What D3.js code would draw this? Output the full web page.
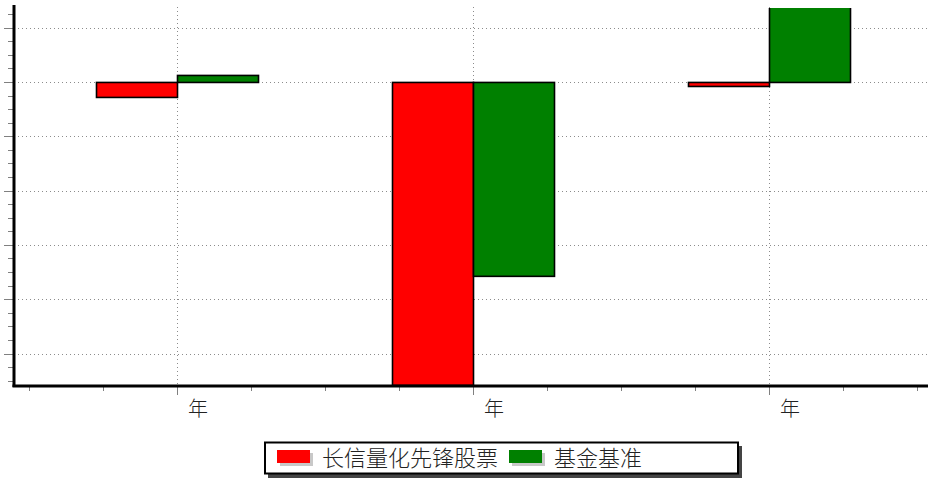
<!DOCTYPE html>
<html><head><meta charset="utf-8">
<script src="https://cdn.jsdelivr.net/npm/d3@7/dist/d3.min.js"></script>
<style>
html,body{margin:0;padding:0;background:#fff;}
svg{display:block;}
</style></head>
<body>
<svg id="chart" width="928" height="479"></svg>
<script>
// ---- data ----
const categories = ["年", "年", "年"];
const seriesNames = ["长信量化先锋股票", "基金基准"];
const seriesColors = ["#ff0000", "#008000"];
const fundValues = [-2.76, -60, -0.74];      // 长信量化先锋股票
const benchValues = [1.29, -35.7, 20];       // 基金基准
const yTicks = [-50, -40, -30, -20, -10, 0, 10];

// ---- layout ----
const svg = d3.select("#chart");
const plotLeft = 14, plotRight = 928, plotTop = 7, plotBottom = 385;

const y = d3.scaleLinear().domain([-55.8, 13.8]).range([plotBottom, plotTop]).clamp(true);
// category centers along a linear index scale
const x = d3.scaleLinear().domain([0, 1]).range([177, 473]);
const barW = 81;

const g = svg.append("g");

// horizontal gridlines
g.selectAll(".hgrid").data(yTicks).join("line")
  .attr("x1", plotLeft).attr("x2", plotRight)
  .attr("y1", d => Math.round(y(d)) + 0.5).attr("y2", d => Math.round(y(d)) + 0.5)
  .attr("stroke", "#8c8c8c").attr("stroke-width", 1).attr("stroke-dasharray", "1,3");

// vertical gridlines at category centers
g.selectAll(".vgrid").data(categories).join("line")
  .attr("x1", (d, i) => Math.round(x(i)) + 0.5).attr("x2", (d, i) => Math.round(x(i)) + 0.5)
  .attr("y1", plotTop).attr("y2", plotBottom)
  .attr("stroke", "#8c8c8c").attr("stroke-width", 1).attr("stroke-dasharray", "1,3");

// y axis minor/major ticks
const yMinor = d3.range(-55, 13.8, 2.5).filter(v => !yTicks.includes(v));
g.selectAll(".yminor").data(yMinor).join("line")
  .attr("x1", 8).attr("x2", plotLeft)
  .attr("y1", d => Math.round(y(d)) + 0.5).attr("y2", d => Math.round(y(d)) + 0.5)
  .attr("stroke", "#808080").attr("stroke-width", 1);
g.selectAll(".ymajor").data(yTicks).join("line")
  .attr("x1", 4).attr("x2", plotLeft)
  .attr("y1", d => Math.round(y(d)) + 0.5).attr("y2", d => Math.round(y(d)) + 0.5)
  .attr("stroke", "#808080").attr("stroke-width", 1);

// x axis minor/major ticks
const xMinor = d3.range(-2, 11).map(k => k / 4).filter(v => !Number.isInteger(v));
g.selectAll(".xminor").data(xMinor).join("line")
  .attr("x1", d => Math.round(x(d)) + 0.5).attr("x2", d => Math.round(x(d)) + 0.5)
  .attr("y1", plotBottom + 1).attr("y2", plotBottom + 6)
  .attr("stroke", "#808080").attr("stroke-width", 1);
g.selectAll(".xmajor").data(categories).join("line")
  .attr("x1", (d, i) => Math.round(x(i)) + 0.5).attr("x2", (d, i) => Math.round(x(i)) + 0.5)
  .attr("y1", plotBottom + 1).attr("y2", plotBottom + 10)
  .attr("stroke", "#808080").attr("stroke-width", 1);

// bars
const bars = [];
categories.forEach((c, i) => {
  bars.push({i, s: 0, v: fundValues[i]});
  bars.push({i, s: 1, v: benchValues[i]});
});
const defs = svg.append("defs");
defs.append("clipPath").attr("id", "plotclip").append("rect")
  .attr("x", plotLeft).attr("y", plotTop + 1).attr("width", plotRight - plotLeft).attr("height", plotBottom - plotTop - 1);

const barG = g.append("g").attr("clip-path", "url(#plotclip)");
barG.selectAll("rect").data(bars).join("rect")
  .attr("x", d => Math.round(x(d.i)) + (d.s === 0 ? -barW : 0) + 0.5)
  .attr("width", barW)
  .attr("y", d => Math.min(y(0), y(d.v)) + 0.5 - (d.v > 12 ? 3 : 0))
  .attr("height", d => Math.abs(y(d.v) - y(0)) + (d.v > 12 ? 3 : 0))
  .attr("fill", d => seriesColors[d.s])
  .attr("stroke", "#000").attr("stroke-width", 1.6);

// axes lines
g.append("line").attr("x1", plotLeft).attr("x2", plotLeft).attr("y1", 5).attr("y2", plotBottom + 2)
  .attr("stroke", "#000").attr("stroke-width", 3);
g.append("line").attr("x1", plotLeft - 1.5).attr("x2", plotRight).attr("y1", plotBottom + 1).attr("y2", plotBottom + 1)
  .attr("stroke", "#000").attr("stroke-width", 3);

// category labels
g.selectAll(".xlab").data(categories).join("text")
  .attr("x", (d, i) => x(i) + 21).attr("y", 416)
  .attr("text-anchor", "middle")
  .attr("font-family", "'Noto Sans CJK SC', sans-serif")
  .attr("font-weight", 300)
  .attr("font-size", 20).attr("fill", "#222")
  .text(d => d);

// legend
const lg = svg.append("g");
lg.append("rect").attr("x", 268).attr("y", 446).attr("width", 474).attr("height", 32).attr("fill", "#444");
lg.append("rect").attr("x", 265).attr("y", 442.5).attr("width", 473).attr("height", 31)
  .attr("fill", "#fff").attr("stroke", "#000").attr("stroke-width", 2);
const legendItems = [
  {name: seriesNames[0], color: seriesColors[0], sx: 277, tx: 322},
  {name: seriesNames[1], color: seriesColors[1], sx: 509, tx: 554}
];
legendItems.forEach(it => {
  lg.append("rect").attr("x", it.sx + 3).attr("y", 453).attr("width", 33).attr("height", 13).attr("fill", "#c8c8c8");
  lg.append("rect").attr("x", it.sx).attr("y", 450).attr("width", 33).attr("height", 13).attr("fill", it.color);
  lg.append("text").attr("x", it.tx).attr("y", 466)
    .attr("font-family", "'Noto Sans CJK SC', sans-serif")
    .attr("font-weight", 300)
    .attr("font-size", 22).attr("fill", "#222")
    .text(it.name);
});
</script>
</body></html>
